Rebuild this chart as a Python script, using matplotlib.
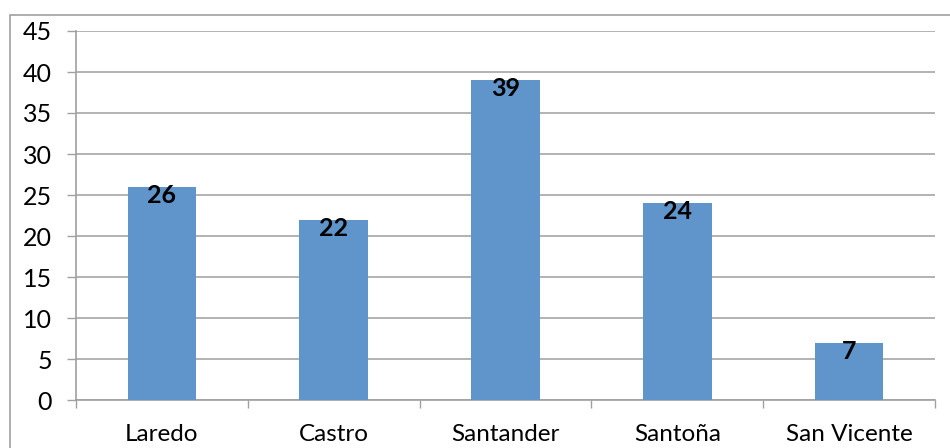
import matplotlib.pyplot as plt
from matplotlib.patches import Rectangle

# --- Data ---
towns = ['Laredo', 'Castro', 'Santander', 'Santoña', 'San Vicente']
counts = [26, 22, 39, 24, 7]
yticks = [0, 5, 10, 15, 20, 25, 30, 35, 40, 45]

plt.rcParams['font.family'] = ['Lato', 'DejaVu Sans']

fig = plt.figure(figsize=(9.5, 4.48), dpi=100)
ax = fig.add_axes([76 / 950, 1 - 400 / 448, (935 - 76) / 950, (400 - 31) / 448])

# --- Bars ---
x = range(len(towns))
bars = ax.bar(x, counts, width=0.4, color='#5F95CB', zorder=3)

# value labels sitting just inside the top of each bar
for xi, v in zip(x, counts):
    ax.annotate(str(v), (xi, v), xytext=(0, 2), textcoords='offset points',
                ha='center', va='top', fontsize=18, fontweight='bold', zorder=4)

# --- Axes styling ---
ax.set_xlim(-0.5, len(towns) - 0.5)
ax.set_ylim(0, 45)
ax.set_yticks(yticks)
ax.tick_params(axis='y', labelsize=18, length=6.5, width=1, color='#a0a0a0', pad=11)
ax.yaxis.grid(True, color='#a6a6a6', linewidth=1.2)
ax.set_axisbelow(True)

ax.set_xticks(list(x))
ax.set_xticklabels(towns, fontsize=17.5)
ax.tick_params(axis='x', length=0, pad=17)
ax.set_xticks([i - 0.5 for i in range(len(towns) + 1)], minor=True)
ax.tick_params(axis='x', which='minor', length=6, width=1, color='#a0a0a0')

for side in ['top', 'right']:
    ax.spines[side].set_visible(False)
for side in ['left', 'bottom']:
    ax.spines[side].set_color('#a0a0a0')
    ax.spines[side].set_linewidth(1.2)

# --- Chart area border ---
fig.patches.append(Rectangle((9.5 / 950, -0.1), 2, (448 - 15.5) / 448 + 0.1,
                             transform=fig.transFigure, fill=False,
                             edgecolor='#a0a0a0', linewidth=1.2))

fig.savefig('out.png', dpi=100)
